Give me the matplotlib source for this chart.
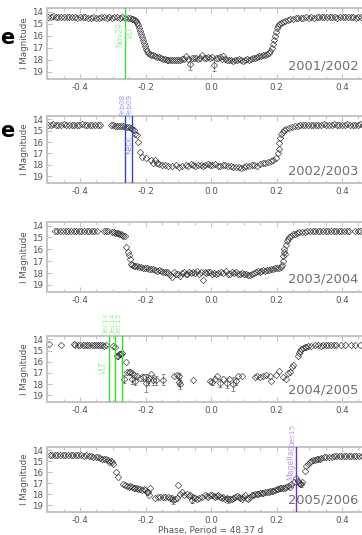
import numpy as np
import matplotlib
matplotlib.use("Agg")
import matplotlib.pyplot as plt
from matplotlib.ticker import MultipleLocator

plt.rcParams["axes.unicode_minus"] = False
plt.rcParams["font.family"] = ["DejaVu Sans"]

# ---- data ----
years = ["2001/2002", "2002/2003", "2003/2004", "2004/2005", "2005/2006"]

p1_phase = [-0.498, -0.490, -0.482, -0.474, -0.466, -0.458, -0.450, -0.441, -0.433, -0.425, -0.416, -0.408,
            -0.400, -0.392, -0.384, -0.376, -0.368, -0.360, -0.351, -0.343, -0.335, -0.327, -0.319, -0.311,
            -0.303, -0.295, -0.287, -0.279, -0.271, -0.263, -0.255, -0.248, -0.242, -0.237,
            -0.232, -0.228, -0.225, -0.222, -0.219, -0.216, -0.213, -0.210, -0.207, -0.204, -0.201, -0.198,
            -0.195, -0.191, -0.187, -0.183,
            -0.178, -0.172, -0.166, -0.160, -0.154, -0.148, -0.142, -0.136, -0.130, -0.124, -0.118, -0.112,
            -0.106, -0.100, -0.094, -0.088, -0.082, -0.076, -0.070, -0.058, -0.052, -0.046, -0.040, -0.034,
            -0.028, -0.022, -0.016, -0.010, -0.004, 0.002, 0.014, 0.020, 0.026, 0.032, 0.038, 0.044,
            0.050, 0.056, 0.062, 0.068, 0.074, 0.080, 0.086, 0.092, 0.098, 0.104, 0.110, 0.116,
            0.122, 0.128, 0.134, 0.140, 0.146, 0.152, 0.158, 0.164, 0.170, 0.176, 0.181, 0.185,
            0.188, 0.191, 0.194, 0.197, 0.200, 0.204, 0.208, 0.213, 0.219, 0.226, 0.234, 0.242, 0.250, 0.258,
            0.266, 0.274, 0.282, 0.290, 0.298, 0.306, 0.314, 0.322, 0.330, 0.338, 0.346, 0.354,
            0.362, 0.370, 0.378, 0.386, 0.394, 0.402, 0.410, 0.418, 0.426, 0.434, 0.442, 0.450,
            0.458, 0.466, 0.474, 0.482, 0.490, 0.498]
p1_mag = [14.42, 14.45, 14.40, 14.44, 14.47, 14.43, 14.41, 14.46, 14.44, 14.48, 14.43, 14.50,
          14.46, 14.42, 14.47, 14.52, 14.49, 14.45, 14.50, 14.53, 14.47, 14.44, 14.49, 14.46,
          14.50, 14.48, 14.45, 14.51, 14.47, 14.50, 14.52, 14.55, 14.58, 14.62,
          14.68, 14.78, 14.92, 15.10, 15.35, 15.60, 15.85, 16.10, 16.35, 16.60, 16.85, 17.10,
          17.30, 17.45, 17.52, 17.58,
          17.62, 17.68, 17.75, 17.80, 17.85, 17.90, 17.95, 17.98, 18.02, 18.05, 18.02, 18.06,
          18.00, 18.04, 17.98, 17.95, 17.92, 17.72, 17.90, 17.85, 17.88, 17.82, 17.90, 17.85,
          17.60, 17.88, 17.84, 17.80, 17.86, 17.78, 17.82, 17.88, 17.75, 17.90, 17.70, 17.95,
          18.00, 18.05, 17.98, 18.08, 18.02, 18.06, 17.92, 18.04, 18.08, 17.98, 17.90, 18.02,
          17.95, 17.85, 17.88, 17.78, 17.72, 17.68, 17.62, 17.58, 17.50, 17.42, 17.25, 17.00,
          16.70, 16.35, 16.00, 15.70, 15.40, 15.20, 15.05, 14.95, 14.85, 14.78, 14.70, 14.65, 14.60, 14.57,
          14.55, 14.52, 14.50, 14.48, 14.50, 14.46, 14.49, 14.45, 14.47, 14.44, 14.48, 14.46,
          14.43, 14.47, 14.45, 14.50, 14.44, 14.48, 14.46, 14.43, 14.47, 14.45, 14.49, 14.44,
          14.47, 14.45, 14.48, 14.44, 14.46, 14.45]
p1_err_phase = [-0.064, 0.008]
p1_err_mag = [18.35, 18.40]
p1_err = [0.50, 0.55]

p2_phase = [-0.498, -0.490, -0.482, -0.474, -0.466, -0.458, -0.450, -0.442, -0.434, -0.426, -0.418, -0.410,
            -0.402, -0.394, -0.386, -0.378, -0.370, -0.362, -0.354, -0.346, -0.338,
            -0.305, -0.298, -0.292, -0.286, -0.280, -0.274, -0.268, -0.262, -0.256, -0.250, -0.245, -0.240, -0.236,
            -0.231, -0.227, -0.222, -0.216, -0.210, -0.198, -0.184, -0.177, -0.170,
            -0.165, -0.158, -0.150, -0.140, -0.130, -0.118, -0.108, -0.098, -0.088, -0.078, -0.070, -0.062,
            -0.055, -0.048, -0.040, -0.032, -0.025, -0.018, -0.010, -0.004, 0.004, 0.012, 0.020, 0.028,
            0.036, 0.044, 0.052, 0.060, 0.068, 0.076, 0.084, 0.092, 0.100, 0.108, 0.116, 0.124,
            0.132, 0.140, 0.150, 0.158, 0.166, 0.174, 0.182, 0.190, 0.197, 0.203,
            0.206, 0.209, 0.212, 0.215, 0.219, 0.224, 0.230, 0.238, 0.246, 0.255,
            0.264, 0.272, 0.280, 0.288, 0.296, 0.304, 0.312, 0.320, 0.328, 0.336, 0.344, 0.352,
            0.360, 0.368, 0.376, 0.384, 0.392, 0.400, 0.408, 0.416, 0.424, 0.432, 0.440, 0.448,
            0.456, 0.464, 0.472, 0.480, 0.488, 0.496]
p2_mag = [14.45, 14.47, 14.44, 14.46, 14.45, 14.48, 14.44, 14.46, 14.50, 14.47, 14.45, 14.48,
          14.46, 14.44, 14.47, 14.50, 14.46, 14.45, 14.48, 14.47, 14.46,
          14.50, 14.52, 14.55, 14.54, 14.58, 14.60, 14.62, 14.64, 14.66, 14.70, 14.75, 14.82, 14.90,
          15.25, 15.37, 15.95, 16.85, 17.30, 17.40, 17.55, 17.80, 17.60,
          17.85, 17.92, 18.00, 18.05, 18.08, 18.10, 18.05, 18.15, 18.08, 18.02, 18.10, 17.95,
          18.05, 18.12, 18.00, 17.98, 18.08, 18.02, 17.95, 18.05, 18.00, 17.92, 18.06, 18.10,
          17.98, 18.04, 18.12, 18.08, 18.18, 18.22, 18.15, 18.25, 18.20, 18.12, 18.08, 17.98,
          18.05, 18.10, 17.95, 17.88, 17.85, 17.78, 17.70, 17.55, 17.40, 17.00,
          16.60, 16.10, 15.60, 15.30, 15.10, 14.95, 14.82, 14.72, 14.65, 14.60,
          14.55, 14.52, 14.50, 14.48, 14.47, 14.50, 14.46, 14.48, 14.45, 14.47, 14.44, 14.48,
          14.45, 14.47, 14.44, 14.46, 14.48, 14.45, 14.47, 14.44, 14.46, 14.48, 14.45, 14.47,
          14.44, 14.46, 14.48, 14.45, 14.47, 14.45]

p3_phase = [-0.478, -0.470, -0.462, -0.452, -0.444, -0.436, -0.428, -0.420, -0.412, -0.404, -0.396, -0.388,
            -0.380, -0.372, -0.364, -0.356, -0.348, -0.328, -0.322, -0.316,
            -0.302, -0.297, -0.292, -0.288, -0.284, -0.280, -0.276, -0.272, -0.268, -0.263,
            -0.259, -0.255, -0.252, -0.249, -0.244, -0.240, -0.236, -0.232,
            -0.226, -0.220, -0.214, -0.208, -0.202, -0.196, -0.190, -0.184, -0.178, -0.172, -0.166, -0.160,
            -0.154, -0.148, -0.142, -0.136, -0.130, -0.124, -0.120, -0.114, -0.108, -0.102, -0.096, -0.090,
            -0.084, -0.078, -0.072, -0.066, -0.060, -0.054, -0.048, -0.042, -0.036, -0.030, -0.025, -0.020,
            -0.014, -0.008, -0.002, 0.004, 0.010, 0.016, 0.022, 0.030, 0.038, 0.046, 0.052, 0.058,
            0.064, 0.070, 0.076, 0.082, 0.088, 0.094, 0.100, 0.106, 0.112, 0.118, 0.124, 0.130,
            0.136, 0.142, 0.148, 0.154, 0.160, 0.166, 0.172, 0.178, 0.184, 0.190, 0.196, 0.202,
            0.208, 0.213, 0.217,
            0.219, 0.221, 0.222, 0.223, 0.226, 0.228, 0.231, 0.234, 0.238, 0.243, 0.249, 0.256, 0.263,
            0.270, 0.278,
            0.286, 0.294, 0.302, 0.310, 0.318, 0.326, 0.334, 0.342, 0.350, 0.358, 0.366, 0.374,
            0.382, 0.390, 0.398, 0.406, 0.414, 0.422, 0.440, 0.448, 0.456, 0.470, 0.478, 0.490]
p3_mag = [14.45, 14.47, 14.44, 14.46, 14.45, 14.48, 14.45, 14.46, 14.44, 14.47, 14.45, 14.48,
          14.46, 14.44, 14.47, 14.45, 14.46, 14.46, 14.48, 14.47,
          14.55, 14.58, 14.62, 14.60, 14.66, 14.70, 14.74, 14.78, 14.85, 14.90,
          15.80, 16.20, 16.45, 16.80, 17.20, 17.35, 17.40, 17.38,
          17.45, 17.50, 17.48, 17.55, 17.60, 17.58, 17.65, 17.70, 17.68, 17.75, 17.80, 17.78,
          17.85, 17.90, 17.95, 17.88, 18.00, 18.20, 18.35, 17.95, 18.05, 18.10, 18.25, 17.98,
          17.92, 18.05, 18.12, 17.95, 18.00, 17.90, 18.02, 17.85, 18.10, 17.95, 18.55, 17.92,
          18.00, 17.88, 17.95, 18.05, 17.98, 18.08, 18.02, 17.90, 18.00, 17.85, 18.10, 18.05,
          17.95, 18.02, 17.92, 18.05, 18.08, 18.00, 18.12, 18.10, 18.18, 18.20, 18.05, 17.98,
          17.90, 17.85, 17.88, 17.80, 17.78, 17.85, 17.75, 17.72, 17.68, 17.65, 17.60, 17.58,
          17.55, 17.50, 17.35,
          17.00, 16.60, 15.95, 16.20, 16.40, 15.60, 15.30, 15.10, 14.95, 14.85, 14.75, 14.68, 14.62,
          14.58, 14.55,
          14.52, 14.50, 14.48, 14.47, 14.46, 14.48, 14.45, 14.47, 14.44, 14.46, 14.48, 14.45,
          14.47, 14.44, 14.46, 14.45, 14.47, 14.45, 14.46, 14.48, 14.45, 14.47, 14.45, 14.46]

p4_phase = [-0.494, -0.458, -0.420, -0.414, -0.406, -0.400, -0.392, -0.385, -0.378, -0.372, -0.365, -0.358,
            -0.352, -0.345, -0.338, -0.332, -0.326, -0.320, -0.298, -0.294,
            -0.286, -0.283, -0.280, -0.277, -0.274, -0.271, -0.260, -0.257, -0.251, -0.246, -0.240, -0.236,
            -0.227, -0.217, -0.188, -0.183, -0.113, -0.103, -0.054, -0.003, 0.013, 0.018, 0.038, 0.056,
            0.083, 0.093, 0.134, 0.141, 0.149, 0.159, 0.167, 0.179, 0.184, 0.198, 0.207, 0.219, 0.229,
            0.235, 0.242, 0.247, 0.250, 0.266, 0.269, 0.272, 0.276, 0.281, 0.286, 0.291, 0.296, 0.306,
            0.316, 0.326, 0.336, 0.341, 0.351, 0.358, 0.366, 0.374, 0.381, 0.396, 0.410, 0.426, 0.440,
            0.456, 0.472, 0.488]
p4_mag = [14.45, 14.47, 14.45, 14.48, 14.46, 14.50, 14.47, 14.52, 14.49, 14.47, 14.51, 14.48,
          14.53, 14.50, 14.52, 14.50, 14.55, 14.53, 14.62, 14.70,
          15.50, 15.45, 15.35, 15.30, 15.28, 15.25, 16.05, 16.90, 16.95, 16.88, 17.05, 17.20,
          17.30, 17.45, 17.45, 17.10, 17.30, 17.20, 17.60, 17.70, 17.50, 17.30, 17.50, 17.50,
          17.30, 17.30, 17.40, 17.30, 17.40, 17.30, 17.20, 17.30, 17.70, 17.20, 16.80, 17.40, 17.50,
          17.00, 16.90, 16.50, 16.30, 15.50, 15.20, 15.05, 14.90, 14.80, 14.70, 14.65, 14.60, 14.55,
          14.52, 14.50, 14.55, 14.48, 14.50, 14.47, 14.52, 14.48, 14.50, 14.47, 14.49, 14.46, 14.48,
          14.47, 14.46, 14.48]
p4_err_phase = [-0.266, -0.242, -0.232, -0.207, -0.200, -0.192, -0.178, -0.168, -0.147,
                -0.098, -0.095, -0.097, 0.002, 0.028, 0.048, 0.068, 0.075]
p4_err_mag = [17.55, 17.55, 17.70, 17.40, 17.90, 17.65, 17.60, 17.65, 17.60,
              17.80, 18.00, 17.30, 17.80, 17.90, 17.90, 18.00, 17.75]
p4_err = [0.35, 0.40, 0.35, 0.30, 0.80, 0.45, 0.45, 0.40, 0.50,
          0.35, 0.40, 0.25, 0.30, 0.40, 0.45, 0.60, 0.30]

p5_phase = [-0.493, -0.485, -0.477, -0.469, -0.461, -0.453, -0.445, -0.437, -0.429, -0.421, -0.413, -0.405,
            -0.397, -0.389, -0.381, -0.373, -0.366, -0.359, -0.352, -0.345, -0.338, -0.332, -0.326, -0.320,
            -0.315, -0.311, -0.306, -0.302, -0.298,
            -0.290, -0.283, -0.268, -0.263, -0.258, -0.252, -0.246, -0.242, -0.236, -0.232, -0.226, -0.222,
            -0.216, -0.212, -0.206, -0.201, -0.196, -0.191, -0.186, -0.190,
            -0.171, -0.163, -0.156, -0.148, -0.140, -0.132, -0.125, -0.118, -0.110, -0.105, -0.100, -0.094,
            -0.089, -0.082, -0.074, -0.068, -0.064, -0.056, -0.050, -0.043, -0.036, -0.028, -0.018, -0.012,
            -0.008, -0.002, 0.002, 0.008, 0.012, 0.018, 0.022, 0.028, 0.033, 0.038, 0.043, 0.048,
            0.058, 0.063, 0.068, 0.073, 0.078, 0.084, 0.089, 0.094, 0.099, 0.104, 0.110, 0.114,
            0.119, 0.124, 0.129, 0.134, 0.139, 0.144, 0.150, 0.155, 0.160, 0.165, 0.170, 0.176,
            0.181, 0.186, 0.190, 0.195, 0.200, 0.205, 0.210, 0.215, 0.220, 0.225, 0.230, 0.236,
            0.240, 0.245,
            0.252, 0.260, 0.264, 0.268, 0.273, 0.277, 0.286, 0.291, 0.296, 0.301, 0.306, 0.311,
            0.317, 0.322, 0.327, 0.332, 0.337, 0.344, 0.352, 0.360, 0.368, 0.376, 0.383, 0.390,
            0.398, 0.406, 0.413, 0.420, 0.428, 0.436, 0.444, 0.452, 0.460, 0.468, 0.476, 0.484, 0.492]
p5_mag = [14.40, 14.42, 14.40, 14.43, 14.41, 14.44, 14.42, 14.45, 14.43, 14.46, 14.44, 14.47,
          14.45, 14.48, 14.46, 14.52, 14.55, 14.58, 14.62, 14.60, 14.70, 14.75, 14.82, 14.80,
          14.90, 15.05, 14.95, 15.10, 15.25,
          16.00, 16.45, 17.05, 17.15, 17.20, 17.30, 17.28, 17.35, 17.40, 17.38, 17.45, 17.50,
          17.55, 17.60, 17.55, 17.62, 17.75, 17.80, 17.40, 18.05,
          18.30, 18.25, 18.20, 18.22, 18.20, 18.28, 18.30, 18.35, 18.40, 18.30, 17.15, 18.00,
          17.80, 18.05, 18.00, 18.15, 18.10, 18.25, 18.30, 18.40, 18.35, 18.25, 18.05, 18.15,
          18.20, 18.10, 18.05, 18.18, 18.20, 18.12, 18.05, 18.25, 18.30, 18.20, 18.40, 18.30,
          18.38, 18.40, 18.30, 18.20, 18.15, 18.25, 18.30, 18.40, 18.28, 18.10, 18.35, 18.45,
          18.20, 18.05, 18.10, 18.00, 17.98, 17.95, 17.90, 17.85, 17.90, 17.82, 17.75, 17.80,
          17.70, 17.72, 17.65, 17.60, 17.55, 17.50, 17.42, 17.40, 17.38, 17.40, 17.30, 17.25,
          17.30, 17.10,
          16.90, 16.50, 16.75, 17.00, 17.05, 16.90, 15.85, 15.45, 15.20, 15.10, 14.95, 14.90,
          14.85, 14.82, 14.78, 14.75, 14.70, 14.65, 14.62, 14.60, 14.58, 14.55, 14.56, 14.52,
          14.54, 14.50, 14.52, 14.50, 14.51, 14.49, 14.50, 14.48, 14.49, 14.47, 14.48, 14.46, 14.47]
p5_err_phase = [-0.115, -0.059, 0.053, 0.276]
p5_err_mag = [18.55, 18.50, 18.45, 17.10]
p5_err = [0.30, 0.30, 0.30, 0.20]

green, lgreen = "#33dd33", "#99ee99"
blue, lblue = "#3344cc", "#9999ee"
purple, lpurple = "#6633cc", "#bb99ee"

# vertical markers per panel: (phase, line colour, label colour, label above the axes)
lines = [
    [(-0.263, green, lgreen, None)],
    [(-0.262, blue, lblue, "Feb08"), (-0.241, blue, lblue, "Feb09")],
    [],
    [(-0.312, green, lgreen, "Dec13"), (-0.293, green, lgreen, "Dec14"), (-0.272, green, lgreen, "Dec15")],
    [(0.259, purple, lpurple, "Dec15")],
]
# labels inside the axes: (phase, mag, text, colour, ha)
inside = [
    [(-0.265, 15.9, "Nov29", lgreen, "right"), (-0.259, 15.7, "VLT", lgreen, "left")],
    [(-0.2515, 16.2, "Keck", lblue, "center")],
    [],
    [(-0.315, 16.5, "VLT", lgreen, "right")],
    [(0.257, 15.1, "Magellan", lpurple, "right")],
]

panels = [
    (p1_phase, p1_mag, p1_err_phase, p1_err_mag, p1_err),
    (p2_phase, p2_mag, [], [], []),
    (p3_phase, p3_mag, [], [], []),
    (p4_phase, p4_mag, p4_err_phase, p4_err_mag, p4_err),
    (p5_phase, p5_mag, p5_err_phase, p5_err_mag, p5_err),
]

W, H = 362, 535
fig = plt.figure(figsize=(W / 100, H / 100), dpi=100)
tops = [8, 116, 222, 336, 447]
heights = [71, 67, 70, 66, 65]
left_px, width_px = 47.3, 327.5

gray = "#c4c4c4"
txt = "#555555"

axes = []
for i, (ph, mg, eph, emg, eer) in enumerate(panels):
    ax = fig.add_axes([left_px / W, 1 - (tops[i] + heights[i]) / H, width_px / W, heights[i] / H])
    axes.append(ax)
    ax.plot(ph, mg, ls="none", marker="D", ms=3.3, mfc="none", mec="#2a2a2a", mew=0.5, alpha=0.85)
    if len(eph):
        ax.errorbar(eph, emg, yerr=eer, fmt="D", ms=3.3, mfc="none", mec="#2a2a2a", mew=0.5,
                    ecolor="#555555", elinewidth=0.5, capsize=1.5, capthick=0.5, alpha=0.85)
    ax.set_xlim(-0.5, 0.5)
    ax.set_ylim(19.6, 13.7)
    ax.xaxis.set_minor_locator(MultipleLocator(0.05))
    ax.yaxis.set_major_locator(MultipleLocator(1))
    ax.set_xticks([-0.4, -0.2, 0.0, 0.2, 0.4])
    ax.set_xticklabels(["-0.4", "-0.2", "0.0", "0.2", "0.4"])
    ax.tick_params(which="both", direction="in", top=True, right=True, color=gray,
                   labelcolor=txt, labelsize=6.3, width=0.8)
    ax.tick_params(which="major", length=3.5)
    ax.tick_params(which="minor", length=2)
    ax.tick_params(axis="x", pad=3)
    ax.tick_params(axis="y", pad=3)
    for s in ax.spines.values():
        s.set_color(gray)
        s.set_linewidth(1.4)
    ax.set_ylabel("I Magnitude", fontsize=6.3, color=txt, labelpad=2)
    ax.text(0.949, 0.13, years[i], transform=ax.transAxes, ha="right", va="baseline",
            fontsize=9.4, color="#707070", zorder=5)

    for (x, lc, tc, above) in lines[i]:
        ax.axvline(x, color=lc, lw=1.0, zorder=3)
        if above:
            ax.text(x - 0.001, 13.7, above, rotation=90, ha="right", va="bottom",
                    fontsize=5.2, color=tc, clip_on=False)
    for (x, y, s, c, ha) in inside[i]:
        ax.text(x, y, s, rotation=90, ha=ha, va="center", fontsize=5.6, color=c)

axes[4].set_xlabel("Phase, Period = 48.37 d", fontsize=6.3, color=txt, labelpad=0.5)

fig.text(14 / W, 1 - 38 / H, "e", ha="right", va="center", fontsize=15, fontweight="bold", color="black")
fig.text(14 / W, 1 - 131 / H, "e", ha="right", va="center", fontsize=15, fontweight="bold", color="black")

fig.savefig("out.png", dpi=100)
